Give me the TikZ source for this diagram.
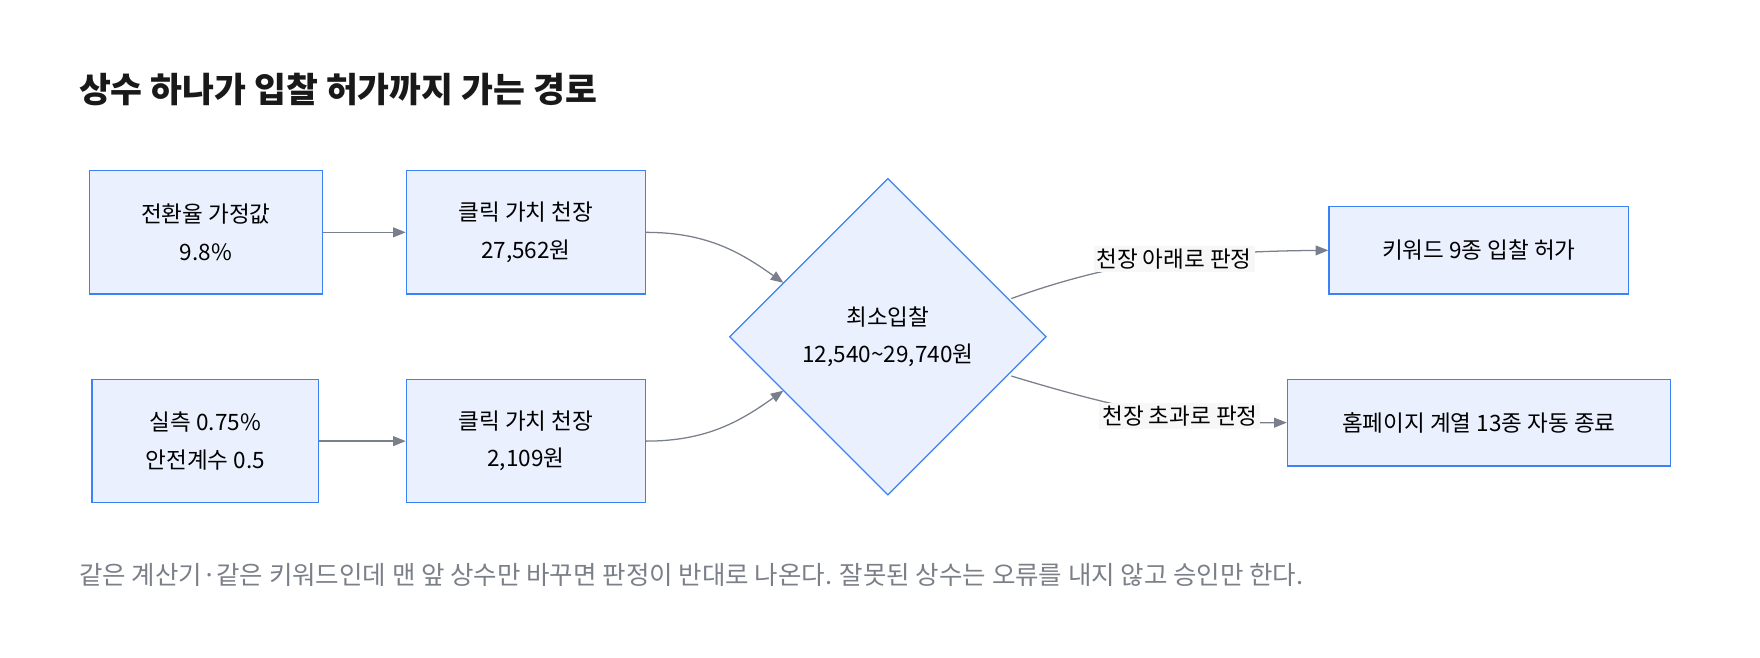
\documentclass[tikz,border=0pt]{standalone}
\usepackage{fontspec}
\setmainfont{Noto Sans CJK KR}
\usetikzlibrary{positioning,shapes.geometric,arrows.meta}
\definecolor{boxfill}{HTML}{EAF0FE}
\definecolor{boxline}{HTML}{3B82F6}
\definecolor{arrowgray}{HTML}{7A7F8C}
\definecolor{capgray}{HTML}{7B7F88}
\tikzset{>={Triangle[length=9pt,width=7pt]}}
\tikzset{
  stage/.style={draw=boxline,fill=boxfill,line width=0.9pt,align=center,font=\fontsize{16}{26.5}\selectfont,inner sep=0pt},
  check/.style={diamond,aspect=1,draw=boxline,fill=boxfill,line width=0.9pt,align=center,font=\fontsize{16}{26.5}\selectfont,inner sep=0pt,minimum width=7.9cm,minimum height=7.9cm},
  flow/.style={->,draw=arrowgray,line width=0.9pt},
  tag/.style={fill=white!97!black,font=\fontsize{16}{18}\selectfont,inner sep=2pt}
}
\begin{document}
\begin{tikzpicture}[x=0.028cm,y=-0.028cm]
\useasboundingbox (0,0) rectangle (1568,586);
% title and note
\node[anchor=west,font=\fontsize{24.6}{28}\selectfont\bfseries,text=black!90] (title) at (66,80) {상수 하나가 입찰 허가까지 가는 경로};
\node[anchor=west,font=\fontsize{18.1}{20}\selectfont,text=capgray] (note) at (66,512) {같은 계산기·같은 키워드인데 맨 앞 상수만 바꾸면 판정이 반대로 나온다. 잘못된 상수는 오류를 내지 않고 승인만 한다.};
% inputs
\node[stage,minimum width=5.8cm,minimum height=3.08cm] (rate) at (183.5,207) {전환율 가정값\\9.8\%};
\node[stage,minimum width=5.96cm,minimum height=3.08cm] (capA) at (468.5,207) {클릭 가치 천장\\27,562원};
\node[stage,minimum width=5.66cm,minimum height=3.08cm] (real) at (183,393) {실측 0.75\%\\안전계수 0.5};
\node[stage,minimum width=5.96cm,minimum height=3.08cm] (capB) at (468.5,393) {클릭 가치 천장\\2,109원};
% check
\node[check] (bid) at (791,300) {최소입찰\\12,540\textasciitilde29,740원};
% outcomes
\node[stage,minimum width=7.48cm,minimum height=2.18cm] (pass) at (1317.5,223) {키워드 9종 입찰 허가};
\node[stage,minimum width=9.55cm,minimum height=2.16cm] (stop) at (1317.5,376.5) {홈페이지 계열 13종 자동 종료};
\coordinate (inA) at (698,252);
\coordinate (inB) at (698,348);
\coordinate (outA) at (901,266);
\coordinate (outB) at (901,335);
% connectors
\draw[flow] (rate) -- (capA);
\draw[flow] (real) -- (capB);
\draw[flow] (capA.east) .. controls (630,207) and (660,225) .. (inA);
\draw[flow] (capB.east) .. controls (630,393) and (660,375) .. (inB);
\draw[flow] (outA) .. controls (1000,230) and (1080,224) .. node[tag,pos=0.52] (low) {천장 아래로 판정} (pass.west);
\draw[flow] (outB) .. controls (1000,365) and (1060,377) .. node[tag,pos=0.6] (high) {천장 초과로 판정} (stop.west);
\end{tikzpicture}
\end{document}
